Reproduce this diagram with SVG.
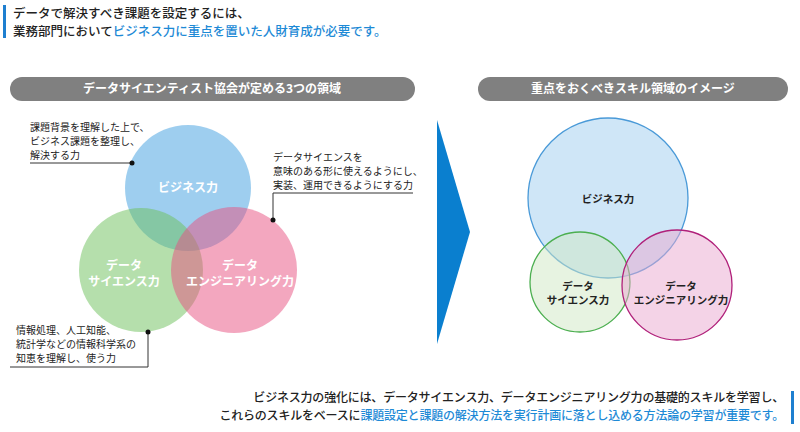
<svg xmlns="http://www.w3.org/2000/svg" width="800" height="432" viewBox="0 0 800 432">
<style>
text{font-family:"Noto Sans CJK JP","Noto Sans",sans-serif;}
.t{font-size:12.5px;fill:#222;font-weight:500}
.u{font-size:12px;fill:#222;font-weight:500}
.s{font-size:10px;fill:#222}
.h{font-size:12px;fill:#fff;font-weight:700}
.w{font-size:12px;fill:#fff;font-weight:700}
.k{font-size:10.5px;fill:#222;font-weight:700}
.b{fill:#1e8ad6}
.ln{stroke:#333;stroke-width:1;fill:none}
</style>
<rect x="0" y="0" width="800" height="432" fill="#fff"/>
<rect x="3" y="5" width="3" height="33" fill="#1e7fd0"/>
<text class="t" x="13" y="18">データで解決すべき課題を設定するには、</text>
<text class="t" x="13" y="36">業務部門において<tspan class="b">ビジネス力に重点を置いた人財育成が必要です。</tspan></text>
<rect x="10" y="77" width="405" height="24" rx="12" fill="#808080"/>
<text class="h" x="212" y="93" text-anchor="middle">データサイエンティスト協会が定める3つの領域</text>
<rect x="478" y="77" width="310" height="24" rx="12" fill="#808080"/>
<text class="h" x="633" y="93" text-anchor="middle">重点をおくべきスキル領域のイメージ</text>
<polygon points="437,120 470,232 437,344" fill="#0a7fcf"/>
<g id="venn-left">
<circle cx="188" cy="188" r="63" fill="#3d9ee0" fill-opacity="0.5"/>
<circle cx="141" cy="270" r="62" fill="#6cc05a" fill-opacity="0.5"/>
<circle cx="234" cy="270" r="63" fill="#e84f80" fill-opacity="0.5"/>
</g>
<g id="node-biz"><text class="w" x="188" y="192" text-anchor="middle">ビジネス力</text></g>
<g id="node-ds"><text class="w" x="124" y="270" text-anchor="middle">データ</text><text class="w" x="124" y="286" text-anchor="middle">サイエンス力</text></g>
<g id="node-de"><text class="w" x="240" y="270" text-anchor="middle">データ</text><text class="w" x="240" y="286" text-anchor="middle">エンジニアリング力</text></g>
<g id="connectors">
<polyline class="ln" points="30,163 132,163"/><circle cx="132" cy="163" r="2.5" fill="#111"/>
<polyline class="ln" points="413,193 273,193 273,220"/><circle cx="273" cy="220" r="2.5" fill="#111"/>
<polyline class="ln" points="10,367 148,367 148,332"/><circle cx="148" cy="332" r="2.5" fill="#111"/>
</g>
<g id="note-biz"><text class="s" x="30" y="131">課題背景を理解した上で、</text><text class="s" x="30" y="145">ビジネス課題を整理し、</text><text class="s" x="30" y="159">解決する力</text></g>
<g id="note-de"><text class="s" x="273" y="161">データサイエンスを</text><text class="s" x="273" y="175">意味のある形に使えるようにし、</text><text class="s" x="273" y="189">実装、運用できるようにする力</text></g>
<g id="note-ds"><text class="s" x="16" y="334">情報処理、人工知能、</text><text class="s" x="16" y="348">統計学などの情報科学系の</text><text class="s" x="16" y="362">知恵を理解し、使う力</text></g>
<g id="venn-right">
<circle cx="608" cy="198" r="80" fill="#a8d2f0" fill-opacity="0.55" stroke="#4a9ad8" stroke-width="1.3"/>
<circle cx="580" cy="282" r="50" fill="#cfe8c4" fill-opacity="0.5" stroke="#4caf50" stroke-width="1.3"/>
<circle cx="677" cy="285" r="55" fill="#eaa8d0" fill-opacity="0.5" stroke="#b0207a" stroke-width="1.3"/>
</g>
<g id="node-biz-r"><text class="k" x="608" y="203" text-anchor="middle">ビジネス力</text></g>
<g id="node-ds-r"><text class="k" x="578" y="290" text-anchor="middle">データ</text><text class="k" x="578" y="304" text-anchor="middle">サイエンス力</text></g>
<g id="node-de-r"><text class="k" x="681" y="290" text-anchor="middle">データ</text><text class="k" x="681" y="304" text-anchor="middle">エンジニアリング力</text></g>
<text class="u" x="784" y="402" text-anchor="end" letter-spacing="-0.2">ビジネス力の強化には、データサイエンス力、データエンジニアリング力の基礎的スキルを学習し、</text>
<text class="u" x="784" y="420" text-anchor="end" letter-spacing="-0.2">これらのスキルをベースに<tspan class="b">課題設定と課題の解決方法を実行計画に落とし込める方法論の学習が重要です。</tspan></text>
<rect x="791" y="391" width="3" height="33" fill="#1e7fd0"/>
</svg>
